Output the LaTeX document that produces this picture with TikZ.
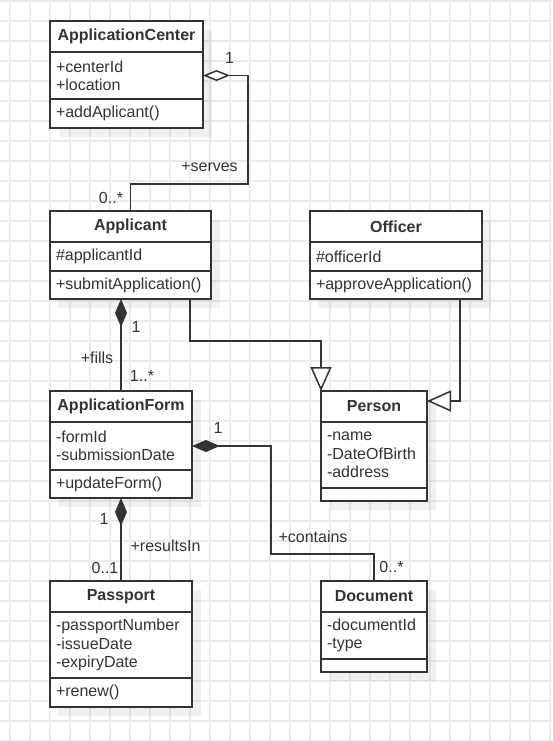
\documentclass[tikz,border=0pt]{standalone}
\usepackage{fontspec}
\setmainfont{Liberation Sans}
\usetikzlibrary{arrows.meta,shadows}
\definecolor{ink}{HTML}{333333}
\definecolor{gridc}{HTML}{EBEBEB}
\hyphenpenalty=10000
\begin{document}
\begin{tikzpicture}[x=1pt,y=-1pt,
    every node/.style={font=\fontsize{16}{18.4}\selectfont, text=ink},
    gridline/.style={draw=gridc, line width=1.2pt},
    part/.style={draw=ink, fill=white, line width=1.5pt, inner sep=0pt, outer sep=0pt, anchor=north west,
        drop shadow={shadow xshift=9pt, shadow yshift=-9pt, fill=black, opacity=.06}},
    head/.style={part, font=\fontsize{16}{18.4}\selectfont\bfseries},
    rows/.style={part, align=left, inner xsep=6pt, text width=#1},
    link/.style={draw=ink, line width=1.5pt},
    agg/.style={link, arrows={Diamond[length=27pt,width=11pt,fill=white]-}},
    comp/.style={link, arrows={Diamond[length=28pt,width=12pt]-}},
    inh/.style={link, arrows={-Triangle[length=24pt,width=21pt,fill=white]}},
    lbl/.style={inner sep=0pt}]
    \useasboundingbox (0,0) rectangle (552,741);
    \fill[white] (0,0) rectangle (552,741);
    \foreach \gx in {10,30,...,550} \draw[gridline] (\gx,0) -- (\gx,741);
    \foreach \gy in {1,21,...,741} \draw[gridline] (0,\gy) -- (552,\gy);

    % classes
    \node[head, minimum width=153, minimum height=31] (center) at (50,21) {ApplicationCenter};
    \node[rows=141pt, minimum width=153, minimum height=47] (centerA) at (center.south west) {+centerId\\+location};
    \node[rows=141pt, minimum width=153, minimum height=29] (centerM) at (centerA.south west) {+addAplicant()};

    \node[head, minimum width=161, minimum height=31] (applicant) at (50,211) {Applicant};
    \node[rows=149pt, minimum width=161, minimum height=29] (applicantA) at (applicant.south west) {\#applicantId};
    \node[rows=149pt, minimum width=161, minimum height=28] (applicantM) at (applicantA.south west) {+submitApplication()};

    \node[head, minimum width=172, minimum height=31] (officer) at (310,211) {Officer};
    \node[rows=160pt, minimum width=172, minimum height=29] (officerA) at (officer.south west) {\#officerId};
    \node[rows=160pt, minimum width=172, minimum height=28] (officerM) at (officerA.south west) {+approveApplication()};

    \node[head, minimum width=106, minimum height=31] (person) at (321,391) {Person};
    \node[rows=94pt, minimum width=106, minimum height=66] (personA) at (person.south west) {-name\\-DateOfBirth\\-address};
    \node[rows=94pt, minimum width=106, minimum height=13] (personM) at (personA.south west) {};

    \node[head, minimum width=142, minimum height=31] (form) at (50,391) {ApplicationForm};
    \node[rows=130pt, minimum width=142, minimum height=48] (formA) at (form.south west) {-formId\\-submissionDate};
    \node[rows=130pt, minimum width=142, minimum height=28] (formM) at (formA.south west) {+updateForm()};

    \node[head, minimum width=142, minimum height=31] (passport) at (50,581) {Passport};
    \node[rows=130pt, minimum width=142, minimum height=66] (passportA) at (passport.south west) {-passportNumber\\-issueDate\\-expiryDate};
    \node[rows=130pt, minimum width=142, minimum height=29] (passportM) at (passportA.south west) {+renew()};

    \node[head, minimum width=106, minimum height=31] (document) at (321,581) {Document};
    \node[rows=94pt, minimum width=106, minimum height=47] (documentA) at (document.south west) {-documentId\\-type};
    \node[rows=94pt, minimum width=106, minimum height=13] (documentM) at (documentA.south west) {};

    % associations
    \draw[agg] (centerA.east) -- ++(45,0) |- ([yshift=27pt]applicant.north) -- (applicant.north);
    \draw[inh] ([xshift=-21pt]applicantM.south east) -- ++(0,42) -| (person.north west);
    \draw[inh] ([xshift=-22pt]officerM.south east) |- ([yshift=-10pt]person.north east);
    \draw[comp] (applicantM.south -| form.north) -- (form.north);
    \draw[comp] (formM.south) -- (passport.north);
    \draw[comp] (formA.east) -- ++(79,0) |- ([yshift=27pt]document.north) -- (document.north);

    % multiplicities and roles
    \node[lbl] (serves1) at (229.5,58) {1};
    \node[lbl] (servesL) at (209.5,166.5) {+serves};
    \node[lbl] (servesN) at (111,198) {0..*};
    \node[lbl] (fills1) at (136,327) {1};
    \node[lbl] (fillsL) at (97,358) {+fills};
    \node[lbl] (fillsN) at (142,376) {1..*};
    \node[lbl] (contains1) at (218,428) {1};
    \node[lbl] (containsL) at (313,536.5) {+contains};
    \node[lbl] (containsN) at (391.5,567) {0..*};
    \node[lbl] (results1) at (104,518.5) {1};
    \node[lbl] (resultsL) at (165.5,546) {+resultsIn};
    \node[lbl] (resultsN) at (105,567.5) {0..1};
\end{tikzpicture}
\end{document}
